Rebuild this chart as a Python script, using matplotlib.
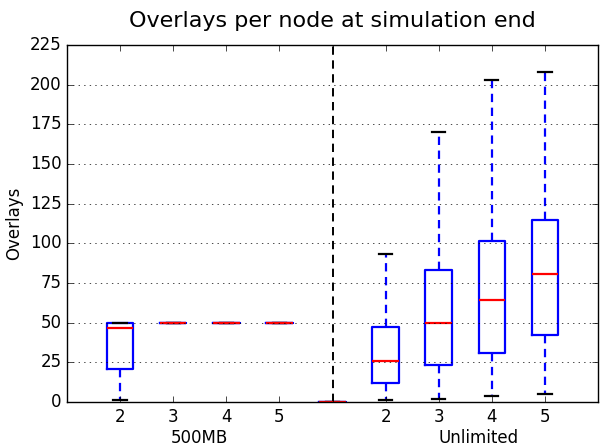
import matplotlib
matplotlib.use("Agg")
import matplotlib.pyplot as plt

# values (per box: low cap, q1, median, q3, high cap)
positions = [1, 2, 3, 4, 5, 6, 7, 8, 9]
tick_labels = ["2", "3", "4", "5", "", "2", "3", "4", "5"]
whislo = [1, 50, 50, 50, 0, 1, 2, 4, 5]
q1 = [21, 50, 50, 50, 0, 12, 23, 31, 42]
med = [46.5, 50, 50, 50, 0, 26, 49.5, 64, 80.5]
q3 = [50, 50, 50, 50, 0, 47, 83, 101.5, 115]
whishi = [50, 50, 50, 50, 0, 93, 170, 203, 208]
groups = ["500MB", "Unlimited"]
group_x = [2.5, 7.75]

plt.style.use("classic")
fig = plt.figure(figsize=(6, 4.46), dpi=100, facecolor="white")
ax = fig.add_axes([0.1117, 0.0987, 0.885, 0.8003])

stats = []
for i in range(len(positions)):
    stats.append({"whislo": whislo[i], "q1": q1[i], "med": med[i],
                  "q3": q3[i], "whishi": whishi[i], "fliers": []})

ax.bxp(stats, positions=positions, widths=0.5, showfliers=False,
       boxprops=dict(color="b", linewidth=1.6),
       whiskerprops=dict(color="b", linewidth=1.6, linestyle="--", dashes=(6, 4)),
       capprops=dict(color="k", linewidth=1.6),
       medianprops=dict(color="r", linewidth=1.6))

ax.axvline(5, color="k", linestyle="--", linewidth=1.4, dashes=(6, 4))
ax.set_xlim(0, 10)
ax.set_ylim(0, 225)
ax.set_yticks(range(0, 226, 25))
ax.set_xticks(positions)
ax.set_xticklabels(tick_labels)
ax.yaxis.grid(True, linestyle=":", color="k")
ax.xaxis.grid(False)

for g, gx in zip(groups, group_x):
    ax.text(gx, -0.1, g, transform=ax.get_xaxis_transform(),
            ha="center", va="center", fontsize=12)

ax.set_ylabel("Overlays")
ax.set_title("Overlays per node at simulation end", y=1.03, fontsize=16)

fig.savefig("out.png", dpi=100, facecolor="white")
